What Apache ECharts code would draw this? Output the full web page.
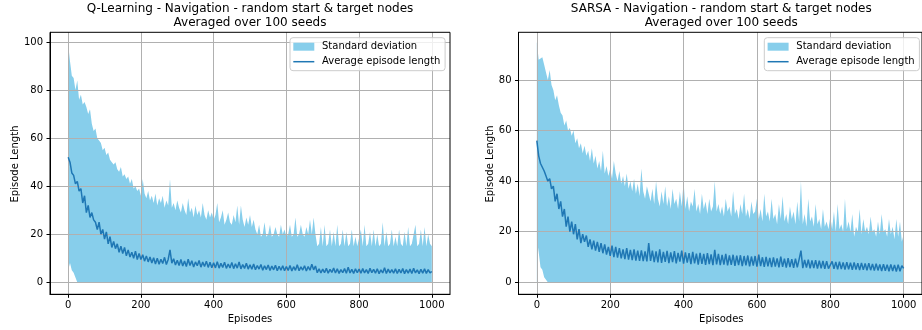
<!DOCTYPE html>
<html><head><meta charset="utf-8">
<script src="https://cdn.jsdelivr.net/npm/echarts@6/dist/echarts.min.js"></script>
<style>html,body{margin:0;padding:0;background:#fff}#c{width:922px;height:330px}</style>
</head><body><div id="c"></div>
<script>
// Episodes are sampled every EPISODE_STEP episodes (0 .. 1000)
const EPISODE_STEP = 5;

// Q-Learning: average episode length
const qMean = [
52, 50, 45.5, 44.5, 41, 42, 38, 39, 33, 36, 29, 32, 27, 29, 26, 25, 22, 25, 20, 22,
18, 21, 16, 19, 14.5, 17, 14, 16, 12.5, 15, 12, 14.5, 11, 13.5, 10.5, 12.5, 10, 13, 9.5, 12,
9.5, 11.5, 8.8, 11, 8.5, 10.5, 8, 10.2, 7.6, 10, 7.5, 9.6, 7.8, 10.4, 7.4, 9.5, 13.5, 8, 9.8, 7.2,
9.2, 7, 9.5, 6.8, 8.9, 6.6, 9.6, 7, 9, 6.4, 8.5, 6.9, 9.1, 6.3, 8.4, 6.6, 8.8, 6.2, 8.3, 6.1,
8.1, 6, 8.6, 5.9, 7.9, 6.2, 8.4, 5.8, 7.6, 6, 8.3, 5.7, 7.7, 5.9, 8.5, 5.6, 7.4, 5.8, 7.9, 5.5,
7.3, 5.4, 7.6, 5.2, 7, 5.5, 7.4, 5, 6.9, 5.3, 7.2, 4.9, 6.8, 5.2, 7.1, 4.8, 6.7, 5, 6.9, 4.8,
6.6, 4.9, 7, 4.7, 6.5, 5, 7.3, 4.8, 6.4, 5.1, 6.9, 4.7, 6.6, 5, 7.5, 5.2, 6.8, 4, 5.6, 3.9,
5.5, 4, 5.8, 3.8, 5.4, 4.1, 5.9, 3.9, 5.6, 3.7, 5.3, 4, 5.7, 3.8, 6.3, 3.9, 5.4, 3.7, 5.6, 4,
5.5, 3.8, 5.7, 3.9, 5.3, 3.7, 5.8, 4, 5.4, 3.8, 5.6, 3.6, 5.2, 3.9, 6.1, 3.7, 5.5, 3.9, 5.3, 3.8,
5.6, 3.7, 5.4, 3.9, 5.7, 3.6, 5.3, 3.8, 5.5, 3.7, 5.8, 3.9, 5.2, 3.6, 5.4, 3.8, 5.6, 3.7, 5.3, 3.9,
4.5
];
// Q-Learning: top of the standard-deviation band (mean + std)
const qUpper = [
99, 92, 86, 85, 80, 84, 76, 78, 74, 75, 73, 70, 72, 66, 63, 64, 60, 59, 58, 55,
56, 53, 54, 51, 50, 49, 50, 47, 46, 48, 44, 45, 43, 44, 41, 43, 39, 40, 38, 39,
36, 43, 37, 35, 38, 34, 36, 33, 37, 32, 35, 33, 36, 31, 34, 32, 43, 31, 33, 30,
34, 31, 29, 33, 30, 28, 35, 29, 31, 27, 32, 28, 30, 27, 33, 28, 26, 30, 27, 29,
26, 28, 33, 25, 27, 30, 24, 26, 29, 25, 24, 28, 25, 32, 24, 32, 26, 23, 27, 24,
28, 23, 26, 22, 20, 24, 19, 20, 25, 19, 20, 24, 19, 20, 23, 20, 19, 24, 20, 22,
19, 20, 24, 19, 20, 27, 19, 20, 24, 20, 19, 23, 20, 26, 20, 27, 20, 15, 16, 23,
15, 24, 15, 16, 22, 15, 21, 15, 24, 15, 16, 22, 15, 21, 15, 16, 22, 15, 19, 15,
15, 22, 15, 24, 15, 16, 21, 15, 22, 15, 20, 15, 16, 25, 15, 21, 15, 16, 22, 15,
19, 15, 22, 16, 15, 21, 15, 23, 15, 16, 20, 24, 15, 16, 22, 15, 23, 15, 20, 16,
15
];
// SARSA: average episode length
const sMean = [
56, 50, 47, 47, 44, 42, 40, 41, 37, 38, 32, 35, 29, 32, 26, 29, 22, 26, 20, 24,
19, 23, 17, 21, 15.5, 19, 16, 18.5, 14, 17, 13, 16.5, 12.5, 16, 12, 15.5, 11.5, 15, 11, 14,
10.5, 14.5, 10, 14, 9.8, 13.5, 9.5, 13, 9.2, 13.5, 9, 12.8, 8.8, 13, 8.6, 12.5, 8.5, 12.6, 8.4, 12.2,
8.3, 15.5, 8.5, 12.5, 8, 12.2, 7.9, 13, 7.7, 12, 8.1, 12.4, 7.6, 11.8, 8, 12.3, 7.5, 11.6, 8.2, 12.5,
7.4, 11.8, 7.8, 11.5, 7.2, 12, 7.5, 11.3, 7, 11.6, 7.3, 11.2, 6.9, 11.5, 7.2, 11, 6.8, 12.8, 7.1, 11.2,
6.8, 10.8, 7, 11.2, 6.7, 10.6, 6.9, 10.9, 6.5, 10.5, 6.8, 10.7, 6.4, 10.4, 6.7, 10.6, 6.3, 10.2, 6.6, 10.4,
6.2, 11, 6.4, 9.9, 6.1, 10.1, 6.3, 9.7, 6, 9.9, 6.2, 9.5, 5.9, 10.2, 6.1, 9.4, 5.8, 9.6, 6, 9.2,
5.7, 9.4, 5.9, 9.1, 12.5, 5.6, 8.9, 5.8, 9, 5.5, 8.7, 5.6, 8.8, 5.4, 8.6, 5.5, 8.5, 5.3, 8.4, 5.4,
5.2, 8.3, 5.3, 8.1, 5.1, 8.2, 5.2, 7.9, 5, 8, 5.1, 7.8, 4.9, 7.9, 5, 7.6, 4.8, 7.7, 4.9, 7.5,
4.7, 7.6, 4.8, 7.3, 4.6, 7.4, 4.7, 7.1, 4.5, 7.2, 4.6, 7, 4.4, 7.1, 4.5, 6.9, 4.3, 7, 4.4, 6.6,
5.5
];
// SARSA: top of the standard-deviation band (mean + std)
const sUpper = [
95, 88, 88, 89, 86, 83, 80, 84, 78, 76, 72, 74, 70, 67, 66, 62, 64, 60, 61, 58,
60, 55, 57, 53, 55, 51, 54, 50, 52, 48, 53, 47, 50, 45, 48, 44, 52, 43, 46, 42,
45, 41, 48, 43, 40, 44, 39, 42, 38, 43, 37, 40, 36, 41, 35, 39, 34, 45, 36, 33,
38, 35, 32, 37, 31, 40, 33, 30, 36, 31, 38, 30, 34, 29, 37, 31, 33, 29, 36, 30,
40, 29, 34, 28, 32, 30, 37, 28, 31, 27, 35, 29, 32, 27, 33, 28, 30, 40, 28, 31,
27, 30, 26, 33, 28, 30, 26, 36, 27, 29, 25, 31, 27, 35, 26, 29, 25, 32, 27, 28,
33, 25, 29, 24, 35, 26, 28, 24, 33, 25, 27, 23, 31, 25, 34, 24, 27, 23, 30, 25,
28, 23, 32, 24, 40, 23, 27, 22, 33, 24, 26, 22, 31, 23, 25, 21, 29, 22, 24, 21,
26, 21, 28, 20, 31, 21, 23, 20, 33, 21, 24, 20, 27, 18, 22, 20, 29, 19, 25, 20,
22, 19, 26, 20, 21, 18, 24, 19, 27, 20, 21, 18, 25, 19, 22, 17, 25, 18, 24, 16,
19
];

const xTicks = [0, 200, 400, 600, 800, 1000];
const qYTicks = [0, 20, 40, 60, 80, 100];
const sYTicks = [0, 20, 40, 60, 80];
const titleLine1 = ['Q-Learning - Navigation - random start & target nodes', 'SARSA - Navigation - random start & target nodes'];
const titleLine2 = 'Averaged over 100 seeds';
const xName = 'Episodes';
const yName = 'Episode Length';
const bandName = 'Standard deviation';
const meanName = 'Average episode length';

const FONT = 'DejaVu Sans';
const FILL = '#87ceeb';
const LINE = '#1f77b4';

const grids = [
  { left: 50, top: 32.3, width: 400, height: 262 },
  { left: 518.5, top: 32.3, width: 406, height: 262 }
];
const yRanges = [[-4.99, 104.04], [-4.74, 98.86]];

function xAxis(i) {
  return {
    gridIndex: i, type: 'value', min: -50, max: 1050, zlevel: 1,
    axisLine: { show: true, onZero: false, lineStyle: { color: '#000', width: 1 } },
    axisTick: { show: true, length: 3.5, customValues: xTicks, lineStyle: { color: '#000', width: 1 } },
    axisLabel: { customValues: xTicks, margin: 6.5, color: '#000', fontFamily: FONT, fontSize: 10, formatter: v => String(v) },
    splitLine: { show: true, lineStyle: { color: '#b0b0b0', width: 1 } }
  };
}
function yAxis(i, ticks) {
  return {
    gridIndex: i, type: 'value', min: yRanges[i][0], max: yRanges[i][1], zlevel: 1,
    axisLine: { show: true, onZero: false, lineStyle: { color: '#000', width: 1 } },
    axisTick: { show: true, length: 3.5, customValues: ticks, lineStyle: { color: '#000', width: 1 } },
    axisLabel: { customValues: ticks, margin: 7, color: '#000', fontFamily: FONT, fontSize: 10, formatter: v => String(v) },
    splitLine: { show: true, lineStyle: { color: '#b0b0b0', width: 1 } }
  };
}
function seriesFor(i, mean, upper) {
  const lower = mean.map((m, k) => Math.max(0, 2 * m - upper[k]));
  const ep = k => k * EPISODE_STEP;
  return [
    { name: bandName, type: 'line', xAxisIndex: i, yAxisIndex: i, symbol: 'none', silent: true, zlevel: 0, z: 1,
      color: FILL, data: upper.map((u, k) => [ep(k), u]),
      lineStyle: { width: 0, opacity: 0 }, areaStyle: { color: FILL, opacity: 1, origin: 0 } },
    { type: 'line', xAxisIndex: i, yAxisIndex: i, symbol: 'none', silent: true, zlevel: 0, z: 2,
      data: lower.map((v, k) => [ep(k), v]), lineStyle: { width: 0, opacity: 0 },
      areaStyle: { color: '#ffffff', opacity: 1, origin: 0 } },
    { name: meanName, type: 'line', xAxisIndex: i, yAxisIndex: i, symbol: 'none', showSymbol: false, silent: true, zlevel: 1, z: 5,
      color: LINE, data: mean.map((v, k) => [ep(k), v]), lineStyle: { color: LINE, width: 1.5 } }
  ];
}
function legend(left) {
  return {
    left: left, top: 37.7, orient: 'vertical', itemWidth: 21, itemHeight: 8, itemGap: 3,
    padding: [3, 4.7, 3, 3.3], backgroundColor: 'rgba(255,255,255,0.8)', borderColor: '#cccccc', borderWidth: 1, borderRadius: 3,
    selectedMode: false, zlevel: 1, z: 10, symbolKeepAspect: true,
    textStyle: { fontFamily: FONT, fontSize: 10, color: '#000', lineHeight: 12, padding: [0, 0, 0, 2.7] },
    data: [{ name: bandName, icon: 'rect' }, { name: meanName, icon: 'path://M0,0L42,0L42,3L0,3Z' }]
  };
}
const centers = [250, 721.3];
const graphics = [];
centers.forEach((cx, i) => {
  graphics.push({ type: 'text', x: cx, y: 9, style: { text: titleLine1[i], fontFamily: FONT, fontSize: 12, fill: '#000', textAlign: 'center', textVerticalAlign: 'middle' } });
  graphics.push({ type: 'text', x: cx, y: 23.3, style: { text: titleLine2, fontFamily: FONT, fontSize: 12, fill: '#000', textAlign: 'center', textVerticalAlign: 'middle' } });
  graphics.push({ type: 'text', x: cx, y: 319, style: { text: xName, fontFamily: FONT, fontSize: 10, fill: '#000', textAlign: 'center', textVerticalAlign: 'middle' } });
});
[15, 490].forEach(x => {
  graphics.push({ type: 'text', x: x, y: 164, rotation: Math.PI / 2, style: { text: yName, fontFamily: FONT, fontSize: 10, fill: '#000', textAlign: 'center', textVerticalAlign: 'middle' } });
});

const chart = echarts.init(document.getElementById('c'), null, { renderer: 'canvas' });
chart.setOption({
  animation: false,
  backgroundColor: '#fff',
  grid: grids.map(g => Object.assign({ show: true, borderColor: '#000', borderWidth: 1, backgroundColor: 'transparent', zlevel: 1, z: 6 }, g)),
  xAxis: [xAxis(0), xAxis(1)],
  yAxis: [yAxis(0, qYTicks), yAxis(1, sYTicks)],
  legend: [legend(290), legend(764.3)],
  series: [].concat(seriesFor(0, qMean, qUpper), seriesFor(1, sMean, sUpper)),
  graphic: graphics
});
</script></body></html>
